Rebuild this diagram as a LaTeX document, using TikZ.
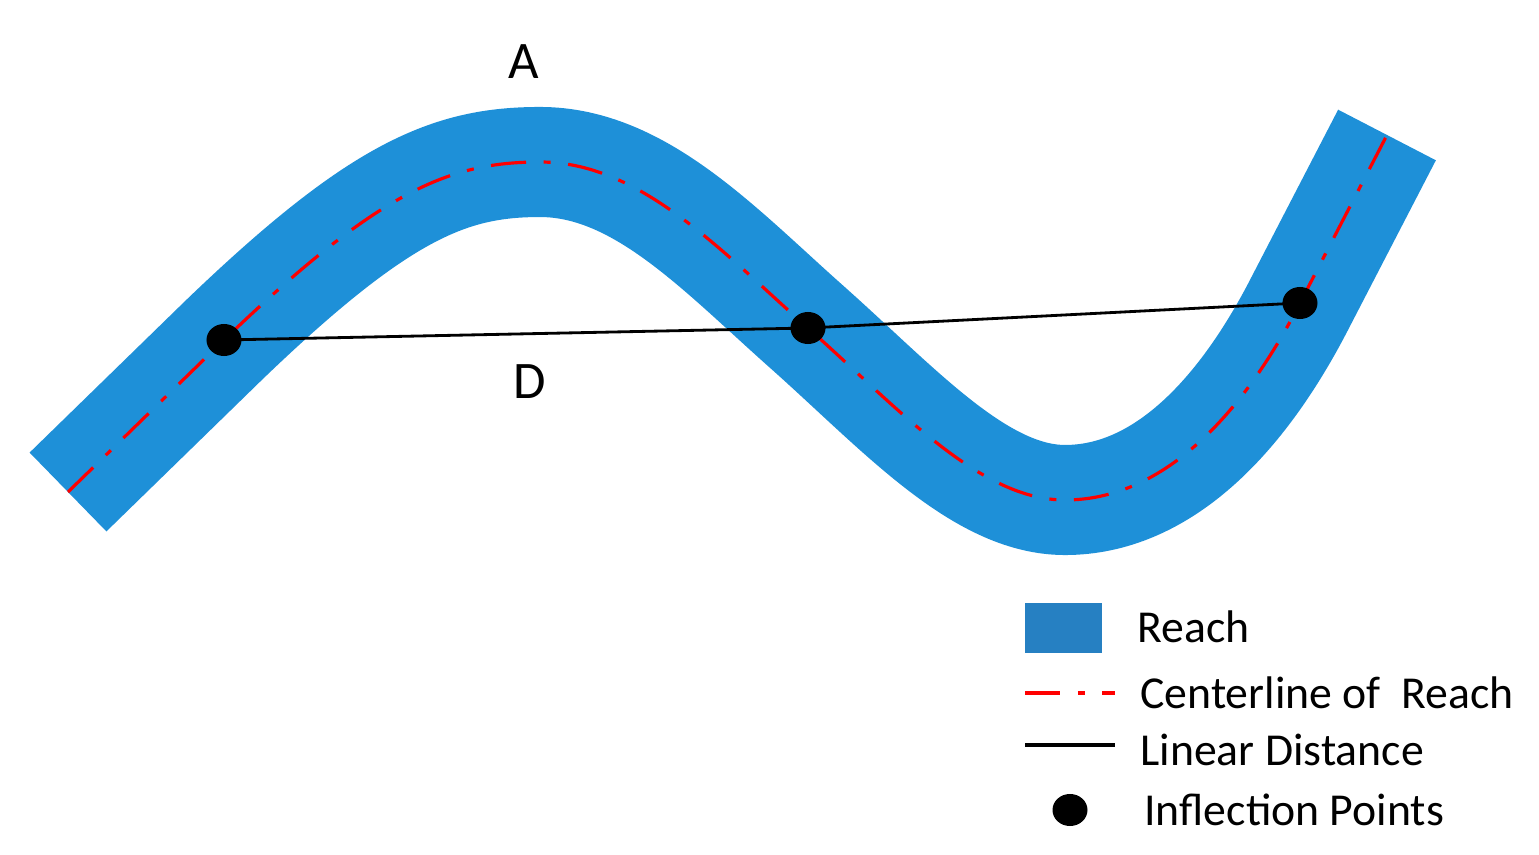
\documentclass[tikz,border=0pt]{standalone}
\usepackage{fontspec}
\setmainfont{Carlito}
\usetikzlibrary{positioning}
\definecolor{reach}{RGB}{30,144,216}
\definecolor{reachkey}{RGB}{38,128,194}
\tikzset{
  band/.style={line width=1.1cm, draw=reach, line cap=butt},
  center/.style={draw=red, line width=0.9pt, dash pattern=on 10pt off 5pt on 2pt off 5pt},
  dist/.style={draw=black, line width=0.8pt},
  ipt/.style={ellipse, fill=black, minimum width=3.5mm, minimum height=3.2mm, inner sep=0pt},
  lbl/.style={font=\fontsize{15}{18}\selectfont},
  key/.style={anchor=west, font=\fontsize{13}{16}\selectfont},
}
\usetikzlibrary{shapes.geometric}
\begin{document}
\begin{tikzpicture}[x=0.01cm, y=-0.01cm]
\useasboundingbox (0,0) rectangle (1539,855);
% river
\def\river{(68,492) -- (224,340) .. controls (380,190) and (450,162) .. (540,162)
  .. controls (640,162) and (720,250) .. (808,328)
  .. controls (900,410) and (980,500) .. (1065,500)
  .. controls (1160,500) and (1240,420) .. (1300,303) -- (1387,135)}
\draw[band] \river;
\draw[center] \river;
% inflection points
\node[ipt] (p1) at (224,340) {};
\node[ipt] (p2) at (808,328) {};
\node[ipt] (p3) at (1300,303) {};
\draw[dist] (p1.center) -- (p2.center) -- (p3.center);
\node[lbl] (a) at (524,62) {A};
\node[lbl] (d) at (530,382) {D};
% legend
\fill[reachkey] (1025,603) rectangle (1102,653);
\node[key] (k1) at (1125,627) {Reach};
\coordinate (c1) at (1025,693);
\coordinate (c2) at (1115,693);
\draw[center] (c1) -- (c2);
\node[key] (k2) at (1128,693) {Centerline of ~Reach};
\coordinate (l1) at (1025,745);
\coordinate (l2) at (1115,745);
\draw[dist, line width=1.2pt] (l1) -- (l2);
\node[key] (k3) at (1128,750) {Linear Distance};
\node[ipt] (kp) at (1070,810) {};
\node[key] (k4) at (1132,810) {Inflection Points};
\end{tikzpicture}
\end{document}
